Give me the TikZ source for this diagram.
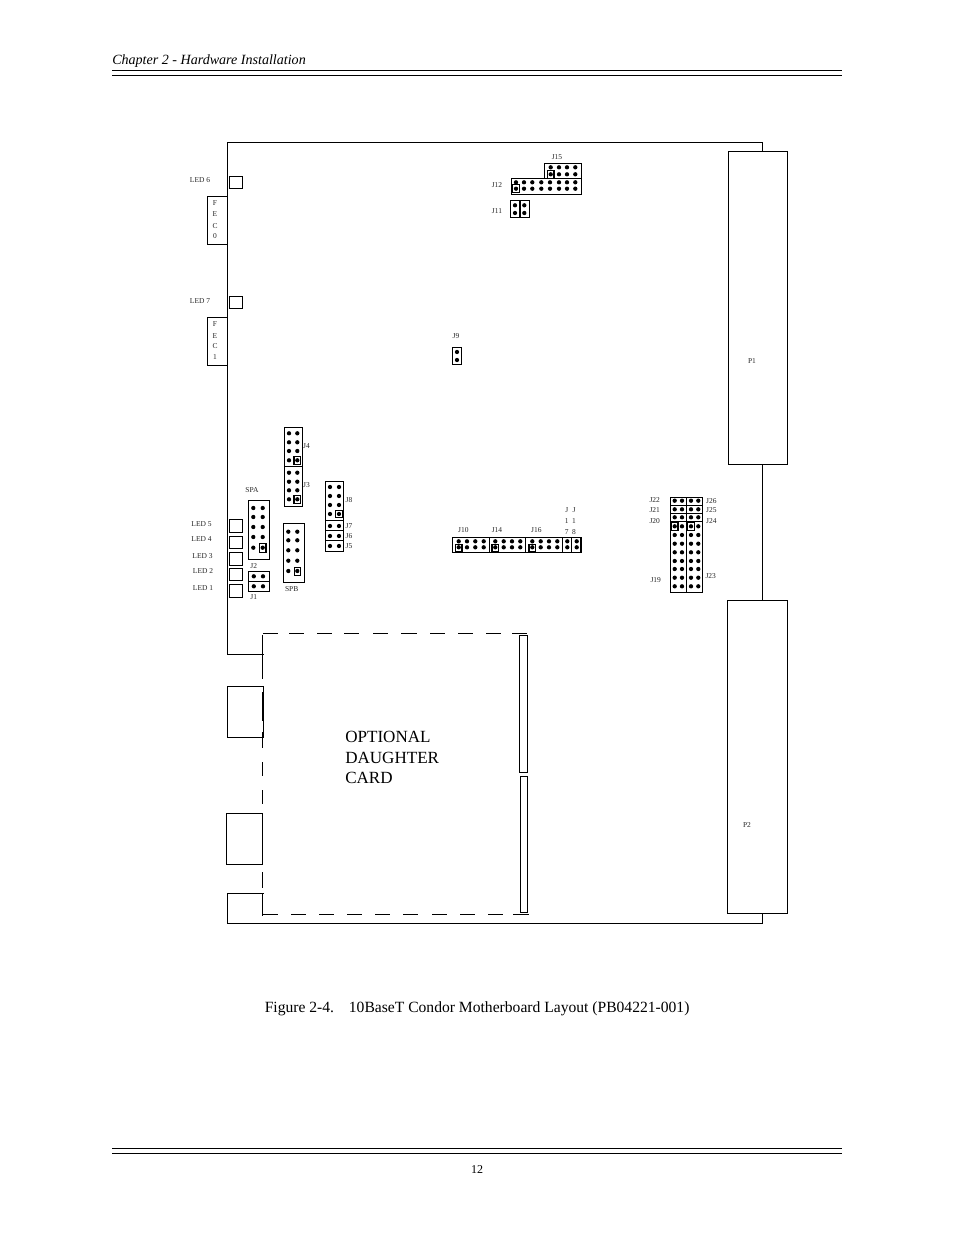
\documentclass[tikz,border=0pt]{standalone}
\usepackage{fontspec}
\setmainfont{Liberation Serif}
\begin{document}
\begin{tikzpicture}[x=0.75pt,y=-0.75pt,
  ln/.style={draw=black,line width=0.8pt},
  rl/.style={draw=black,line width=0.75pt},
  lab/.style={inner sep=0pt,yshift=-0.75pt,font=\fontsize{5.6pt}{6.5pt}\selectfont,text=black!85},
  dashln/.style={draw=black,line width=0.8pt}]
\useasboundingbox[fill=white] (0,0) rectangle (954,1235);
\newcommand{\pins}[2]{\foreach \px in {#1}{\foreach \py in {#2}{\fill (\px,\py) circle[radius=2.15];}}}
\newcommand{\pinsq}[2]{\draw[ln] (#1-3.3,#2-3.8) rectangle (#1+3.3,#2+3.8);}
% page furniture
\node[anchor=west,inner sep=0pt,font=\fontsize{10.55pt}{12pt}\selectfont\itshape] (head) at (112,61.5) {Chapter 2 - Hardware Installation};
\draw[rl] (112,70.5) -- (842,70.5);
\draw[rl] (112,75.5) -- (842,75.5);
\draw[rl] (112,1148.5) -- (842,1148.5);
\draw[rl] (112,1153.5) -- (842,1153.5);
\node[inner sep=0pt,font=\fontsize{9pt}{11pt}\selectfont] (pg) at (477,1170) {12};
\node[anchor=west,inner sep=0pt,font=\fontsize{11.7pt}{13pt}\selectfont] (cap) at (264.5,1009) {Figure 2-4.\hspace{0.95em}10BaseT Condor Motherboard Layout (PB04221-001)};
% board outline
\draw[ln] (263.7,654.4) -- (227.3,654.4) -- (227.3,142.3) -- (762.3,142.3) -- (762.3,151.3);
\draw[ln] (762.3,464.3) -- (762.3,600.3);
\draw[ln] (762.3,913.5) -- (762.3,923.3) -- (227.3,923.3) -- (227.3,893.3) -- (263.7,893.3);
% P1, P2
\draw[ln] (728.3,151.3) rectangle (787.3,464.3);
\draw[ln] (727.3,600.3) rectangle (787.3,913.5);
\node[lab] (p1) at (752,360) {P1};
\node[lab] (p2) at (747,824) {P2};
% rear connectors
\draw[ln] (263.7,686.3) -- (227.3,686.3) -- (227.3,737.3) -- (263.7,737.3) -- cycle;
\draw[ln] (226.3,813.3) rectangle (262.7,864.3);
% dashed daughter card
\foreach \a/\b in {263/277.7,289/304,317/332,344/359,373/388,401/417,430/445,458/473,486/501,512/527}
  \draw[dashln] (\a,633.2) -- (\b,633.2);
\foreach \a/\b in {263/278,291/306,319/334,347/362,375/390,403/418,432/447,460/475,488/503,513/529}
  \draw[dashln] (\a,914.4) -- (\b,914.4);
\foreach \a/\b in {635/678.7,692/720.7,732/748.3,762.3/776.3,790.3/804.3,872.3/887.7,893.3/915.7}
  \draw[dashln] (262.4,\a) -- (262.4,\b);
\draw[ln] (519.3,635.3) rectangle (527.7,772.3);
\draw[ln] (520.3,776.3) rectangle (527.7,912.3);
\node[anchor=west,inner sep=0pt,align=left,font=\fontsize{12.8pt}{15.3pt}\selectfont] (opt) at (345,757.5) {OPTIONAL\\DAUGHTER\\CARD};
% LEDs
\foreach \a/\b in {176.3/188.3,296.4/308.7,519.4/532.7,536.3/548.3,552.3/565.7,568.3/580.3,584.3/597.3}
  \draw[ln] (229.3,\a) rectangle (242.7,\b);
\node[lab] (l6) at (200,179.5) {LED 6};
\node[lab] (l7) at (200,300.5) {LED 7};
\node[lab] (l5) at (201.5,523) {LED 5};
\node[lab] (l4) at (201.5,538.5) {LED 4};
\node[lab] (l3) at (202.5,555) {LED 3};
\node[lab] (l2) at (203,570.5) {LED 2};
\node[lab] (l1) at (203,587) {LED 1};
% FEC
\draw[ln] (227.3,196.3) rectangle (207.3,244.3);
\draw[ln] (227.3,317.3) rectangle (207.3,365.3);
\foreach \t/\y/\n in {F/202/a,E/213.3/b,C/224.7/c,0/235.3/d} \node[lab] (fz\n) at (215,\y) {\t};
\foreach \t/\y/\n in {F/323/a,E/334.7/b,C/345/c,1/356/d} \node[lab] (fo\n) at (215,\y) {\t};
% J15 / J12 / J11
\draw[ln] (544.3,178.3) -- (544.3,163.3) -- (581.3,163.3) -- (581.3,194.3) -- (511.7,194.3) -- (511.7,178.3) -- cycle;
\draw[ln] (544.3,178.3) -- (581.3,178.3);
\pins{550.7,559,567,575.3}{167.3,174.3}
\pinsq{550.7}{174.3}
\pins{516,524,532.3,541.3,550,559,567,575.3}{182.3,188.7}
\pinsq{516}{188.7}
\draw[ln] (510.3,200.3) rectangle (529.3,217.4);
\draw[ln] (520,200.3) -- (520,217.4);
\pins{515,524.3}{205.3,213}
\node[lab] (j15) at (557,156.5) {J15};
\node[lab] (j12) at (497,184) {J12};
\node[lab] (j11) at (497,209.7) {J11};
% J9
\draw[ln] (452.7,347.4) rectangle (461.5,364.4);
\pins{457}{352,360}
\node[lab] (j9) at (456,335) {J9};
% J4 / J3
\draw[ln] (284.3,427.3) rectangle (302.7,506.7);
\draw[ln] (284.3,466.7) -- (302.7,466.7);
\pins{289,297.3}{433.3,442.3,451,460.3,472.7,481.7,490.3,499.3}
\pinsq{297.3}{460.3}
\pinsq{297.3}{499.3}
\node[lab] (j4) at (306.5,445) {J4};
\node[lab] (j3) at (306.5,484.5) {J3};
% SPA / J2 / J1
\draw[ln] (248.3,500.3) rectangle (269.3,559.3);
\pins{253.3,262.7}{508,517,527,537,547.7}
\draw[ln] (259.7,543.3) rectangle (266,552.4);
\draw[ln] (248.3,571.3) rectangle (269.3,591.3);
\draw[ln] (248.3,581.3) -- (269.3,581.3);
\pins{253.8,263}{576.3,586.3}
\node[lab] (spa) at (252,489.5) {SPA};
\node[lab] (j2) at (253.7,565.5) {J2};
\node[lab] (j1) at (253.7,595.7) {J1};
% SPB
\draw[ln] (283.3,523.3) rectangle (304.3,582.4);
\pins{288.3,297.3}{531.7,540.3,550.3,560.7,571}
\draw[ln] (294.3,567.4) rectangle (300.6,575.3);
\node[lab] (spb) at (291.7,587.7) {SPB};
% J8 J7 J6 J5
\draw[ln] (325.3,481.3) rectangle (343.7,551.3);
\foreach \y in {520.3,530.3,540.3} \draw[ln] (325.3,\y) -- (343.7,\y);
\pins{330,339}{487,496,505,514,526,536,546}
\pinsq{339}{514}
\node[lab] (j8) at (349,499) {J8};
\node[lab] (j7) at (349,525) {J7};
\node[lab] (j6) at (349,534.7) {J6};
\node[lab] (j5) at (349,544.7) {J5};
% J10 J14 J16 J17 J18
\draw[ln] (452.7,537.7) rectangle (581,552.3);
\foreach \x in {489.3,525.7,562.7,571.3} \draw[ln] (\x,537.7) -- (\x,552.3);
\pins{458.7,467,475.3,483.7,495.3,503.7,512,520.3,532.3,540.7,549,557.3,567.3,576.7}{541.3,547.3}
\pinsq{458.7}{548}
\pinsq{495.3}{548}
\pinsq{532.3}{548}
\node[lab] (j10) at (463.3,528.7) {J10};
\node[lab] (j14) at (497,528.7) {J14};
\node[lab] (j16) at (536.3,528.7) {J16};
\foreach \t/\y/\n in {J/509.3/a,1/520.3/b,7/531.3/c} \node[lab] (js\n) at (566.7,\y) {\t};
\foreach \t/\y/\n in {J/509.3/a,1/520.3/b,8/531.3/c} \node[lab] (je\n) at (574,\y) {\t};
% J19-J26
\draw[ln] (670.7,497.3) rectangle (702.3,592.4);
\draw[ln] (686.3,497.3) -- (686.3,592.4);
\foreach \y in {505.7,513.4,521.3} \draw[ln] (670.7,\y) -- (702.3,\y);
\pins{674.7,682,691,698.3}{500.7,509.3,517.3,526.3,535,543.7,552.3,561,569,577.7,586.3}
\pinsq{674.7}{526.3}
\pinsq{691}{526.3}
\node[lab] (j22) at (654.7,499.3) {J22};
\node[lab] (j21) at (654.7,509) {J21};
\node[lab] (j20) at (654.7,520) {J20};
\node[lab] (j19) at (655.7,579.3) {J19};
\node[lab] (j26) at (711.3,500) {J26};
\node[lab] (j25) at (711.3,509) {J25};
\node[lab] (j24) at (711.3,520) {J24};
\node[lab] (j23) at (710.7,575) {J23};
\end{tikzpicture}
\end{document}
